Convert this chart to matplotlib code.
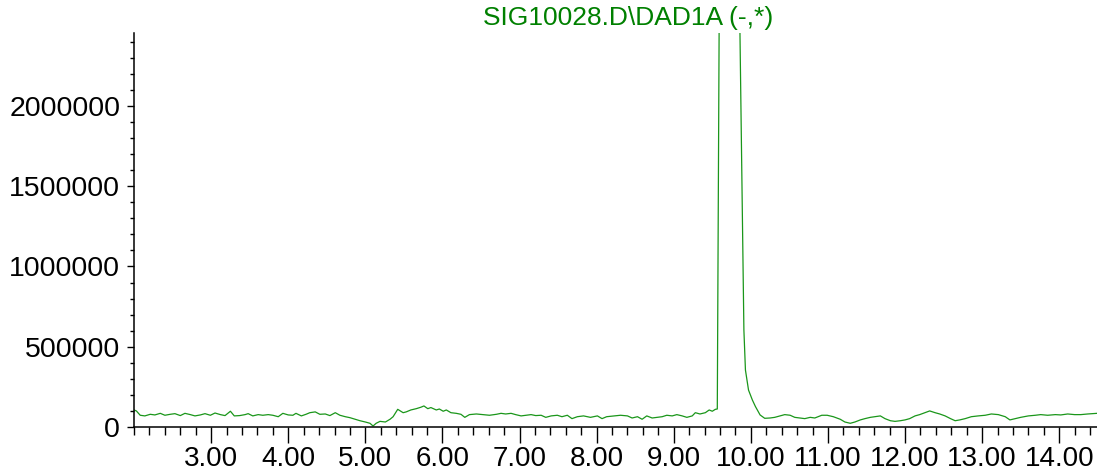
import matplotlib.pyplot as plt
from matplotlib.ticker import MultipleLocator, FixedLocator, FuncFormatter

plt.rcParams['font.family'] = ['Liberation Sans', 'DejaVu Sans']

# retention time (min) and signal (in thousands)
time_min = [2.00, 2.03, 2.08, 2.14, 2.21, 2.27, 2.34, 2.40, 2.47, 2.53, 2.60, 2.66,
            2.73, 2.79, 2.86, 2.92, 2.99, 3.05, 3.12, 3.18, 3.25, 3.30, 3.37, 3.44,
            3.48, 3.54, 3.61, 3.67, 3.74, 3.80, 3.87, 3.93, 4.00, 4.06, 4.10, 4.17,
            4.23, 4.28, 4.35, 4.41, 4.48, 4.54, 4.61, 4.67, 4.74, 4.80, 4.87, 4.93,
            5.00, 5.06, 5.10, 5.14, 5.19, 5.26, 5.32, 5.36, 5.42, 5.49, 5.53, 5.59,
            5.66, 5.72, 5.76, 5.81, 5.85, 5.92, 5.96, 6.01, 6.05, 6.11, 6.18, 6.24,
            6.29, 6.35, 6.44, 6.53, 6.61, 6.70, 6.76, 6.82, 6.89, 6.95, 7.02, 7.08,
            7.15, 7.21, 7.28, 7.34, 7.41, 7.49, 7.55, 7.62, 7.68, 7.75, 7.83, 7.92,
            8.01, 8.07, 8.13, 8.23, 8.31, 8.40, 8.46, 8.53, 8.59, 8.65, 8.72, 8.78,
            8.85, 8.91, 8.98, 9.04, 9.11, 9.17, 9.24, 9.28, 9.34, 9.41, 9.46, 9.50,
            9.54, 9.565, 9.59, 9.855, 9.91, 9.93, 9.97, 10.02, 10.06, 10.12, 10.18,
            10.25, 10.31, 10.38, 10.44, 10.51, 10.57, 10.64, 10.70, 10.77, 10.83,
            10.92, 10.99, 11.07, 11.16, 11.22, 11.29, 11.35, 11.42, 11.48, 11.55,
            11.61, 11.68, 11.74, 11.81, 11.87, 11.94, 12.00, 12.06, 12.13, 12.19,
            12.26, 12.32, 12.39, 12.45, 12.52, 12.59, 12.65, 12.71, 12.78, 12.86,
            12.95, 13.04, 13.12, 13.21, 13.30, 13.36, 13.43, 13.50, 13.60, 13.69,
            13.76, 13.85, 13.95, 14.02, 14.11, 14.20, 14.28, 14.37, 14.49]
signal_k = [106, 100, 73, 69, 79, 75, 85, 73, 79, 83, 71, 85,
            77, 69, 75, 83, 73, 87, 77, 71, 98, 69, 71, 77,
            83, 69, 77, 73, 77, 73, 64, 85, 75, 73, 85, 69,
            79, 89, 94, 79, 81, 71, 89, 73, 64, 58, 48, 39,
            31, 23, 6, 23, 35, 31, 48, 64, 110, 89, 94, 106,
            114, 123, 131, 114, 121, 106, 112, 98, 106, 89, 85, 79,
            60, 77, 81, 77, 73, 79, 85, 81, 85, 77, 69, 73,
            77, 71, 73, 60, 69, 73, 64, 73, 52, 64, 69, 60,
            69, 52, 64, 69, 73, 69, 56, 64, 48, 69, 56, 60,
            64, 73, 69, 77, 69, 60, 69, 89, 81, 89, 106, 98,
            110, 112, 2600, 2600, 604, 355, 230, 168, 127, 75, 54,
            56, 60, 69, 77, 73, 60, 56, 52, 60, 56,
            73, 73, 64, 48, 31, 23, 31, 44, 52, 60,
            64, 69, 52, 39, 35, 39, 44, 52, 69, 77,
            89, 100, 89, 81, 69, 52, 39, 44, 52, 64,
            69, 73, 81, 77, 64, 44, 52, 60, 69, 73,
            77, 73, 77, 75, 81, 77, 77, 81, 85]

x_major = [3, 4, 5, 6, 7, 8, 9, 10, 11, 12, 13, 14]
y_major = [0, 500000, 1000000, 1500000, 2000000]
title = 'SIG10028.D\\DAD1A (-,*)'

signal = [v * 1000 for v in signal_k]

fig = plt.figure(figsize=(10.97, 4.73), dpi=100)
ax = fig.add_axes([0.1222, 0.0973, 0.8778, 0.8330])

ax.plot(time_min, signal, color='#1a961a', lw=0.9)

ax.set_xlim(2.0, 14.49)
ax.set_ylim(0, 2455000)

ax.xaxis.set_major_locator(FixedLocator(x_major))
ax.xaxis.set_minor_locator(MultipleLocator(0.2))
ax.xaxis.set_major_formatter(FuncFormatter(lambda v, p: f'{v:.2f}'))
ax.yaxis.set_major_locator(FixedLocator(y_major))
ax.yaxis.set_minor_locator(MultipleLocator(100000))
ax.yaxis.set_major_formatter(FuncFormatter(lambda v, p: f'{int(v)}'))

ax.tick_params(axis='x', which='major', length=11.5, width=1, pad=2, labelsize=20)
ax.tick_params(axis='x', which='minor', length=5.8, width=1)
ax.tick_params(axis='y', which='major', length=5, width=1, pad=5, labelsize=20.5)
ax.tick_params(axis='y', which='minor', length=3, width=1)

for s in ['top', 'right']:
    ax.spines[s].set_visible(False)
for s in ['left', 'bottom']:
    ax.spines[s].set_linewidth(1.1)

fig.text(0.5725, 0.988, title, color='#008000', fontsize=19,
         ha='center', va='top')

fig.savefig('out.png', dpi=100)
